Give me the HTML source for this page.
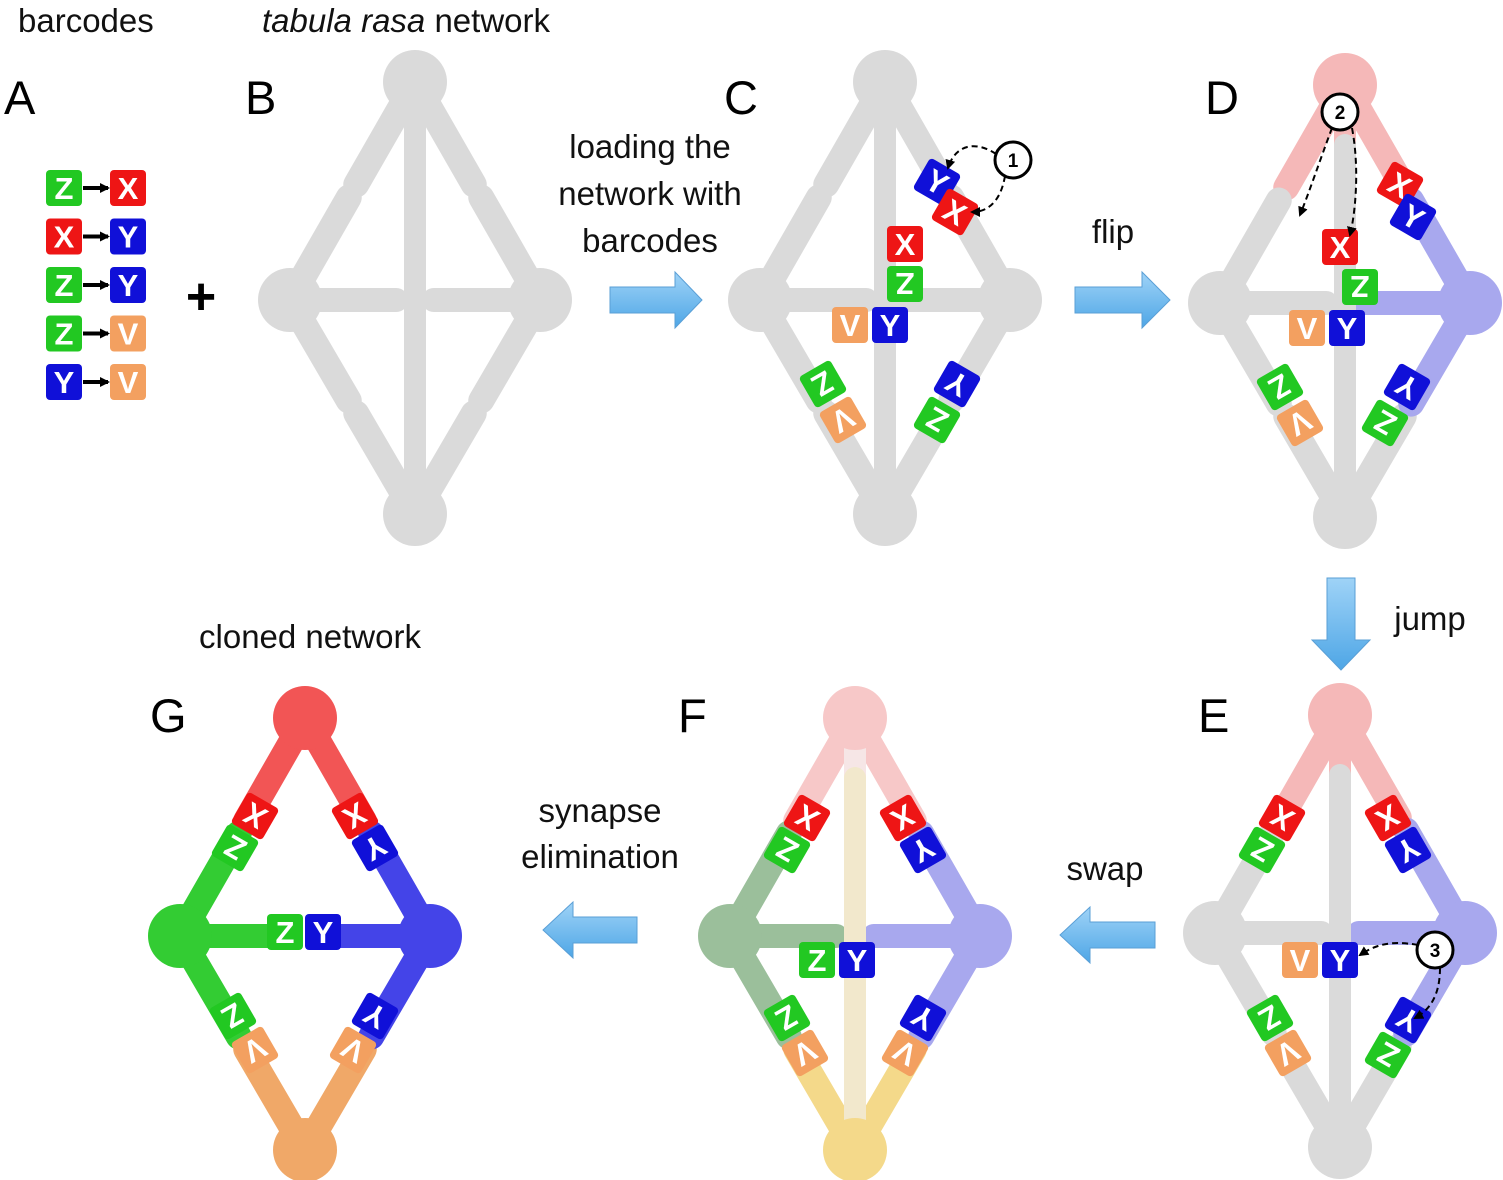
<!DOCTYPE html>
<html><head><meta charset="utf-8"><style>
html,body{margin:0;padding:0;background:#fff;}
svg{display:block;font-family:"Liberation Sans",sans-serif;}
.lbl{font-size:47px;fill:#000;}
.cap{font-size:33px;fill:#111;}
</style></head><body>
<svg id="s" width="1503" height="1180" viewBox="0 0 1503 1180">
<defs>
<marker id="ah" markerUnits="userSpaceOnUse" markerWidth="10" markerHeight="10" refX="8" refY="5" orient="auto"><path d="M0,0 L10,5 L0,10 z" fill="#000"/></marker>
<linearGradient id="blueArrow" x1="0" y1="0" x2="0" y2="1"><stop offset="0" stop-color="#9fd3f7"/><stop offset="1" stop-color="#4ea6e6"/></linearGradient>
</defs>
<g>
<text class="lbl" x="4" y="114">A</text>
<text class="lbl" x="245" y="114">B</text>
<text class="lbl" x="724" y="114">C</text>
<text class="lbl" x="1205" y="114">D</text>
<text class="lbl" x="1198" y="732">E</text>
<text class="lbl" x="678" y="732">F</text>
<text class="lbl" x="150" y="732">G</text>
</g>
<g>
<text class="cap" x="18" y="32">barcodes</text>
<text class="cap" x="262" y="32"><tspan font-style="italic">tabula rasa</tspan> network</text>
<text class="cap" x="650" y="158" text-anchor="middle">loading the</text>
<text class="cap" x="650" y="205" text-anchor="middle">network with</text>
<text class="cap" x="650" y="252" text-anchor="middle">barcodes</text>
<text class="cap" x="1113" y="243" text-anchor="middle">flip</text>
<text class="cap" x="1430" y="630" text-anchor="middle">jump</text>
<text class="cap" x="1105" y="880" text-anchor="middle">swap</text>
<text class="cap" x="600" y="822" text-anchor="middle">synapse</text>
<text class="cap" x="600" y="868" text-anchor="middle">elimination</text>
<text class="cap" x="310" y="648" text-anchor="middle">cloned network</text>
<text x="201" y="314" font-size="52" font-weight="bold" text-anchor="middle">+</text>
</g>
<g>
<polygon points="610,287 675,287 675,272 702,300 675,328 675,313 610,313" fill="url(#blueArrow)" stroke="#5a9fd6"/>
<polygon points="1075,287 1142,287 1142,272 1170,300 1142,328 1142,313 1075,313" fill="url(#blueArrow)" stroke="#5a9fd6"/>
<polygon points="1327,578 1355,578 1355,640 1370,640 1341,670 1312,640 1327,640" fill="url(#blueArrow)" stroke="#5a9fd6"/>
<polygon points="1155,922 1090,922 1090,907 1060,935 1090,963 1090,948 1155,948" fill="url(#blueArrow)" stroke="#5a9fd6"/>
<polygon points="637,917 573,917 573,902 543,930 573,958 573,943 637,943" fill="url(#blueArrow)" stroke="#5a9fd6"/>
</g>
<g id="net"></g>
</svg>
<script>
const NS='http://www.w3.org/2000/svg';
const net=document.getElementById('net');
const COL={Z:'#22c822',X:'#ee1515',Y:'#1010d8',V:'#f3a060'};
function mk(tag,attrs,parent){const e=document.createElementNS(NS,tag);for(const k in attrs)e.setAttribute(k,attrs[k]);(parent||net).appendChild(e);return e;}
function badge(g,x,y,L,rot){
  const b=mk('g',{transform:`translate(${x},${y}) rotate(${rot})`},g);
  
  
  mk('rect',{x:-18,y:-18,width:36,height:36,rx:4,fill:COL[L]},b);
  const t=mk('text',{x:0,y:11,'text-anchor':'middle','font-size':31,'font-weight':'bold',fill:'#fff'},b);
  t.textContent=L;
}
function circ(g,x,y,n){
  mk('circle',{cx:x,cy:y,r:18,fill:'#fff',stroke:'#000','stroke-width':3},g);
  const t=mk('text',{x:x,y:y+7,'text-anchor':'middle','font-size':19,'font-weight':'bold'},g);t.textContent=n;
}
function dash(g,d){mk('path',{d:d,fill:'none',stroke:'#000','stroke-width':2,'stroke-dasharray':'6,4','marker-end':'url(#ah)'},g);}
const pairs=[['Z','X'],['X','Y'],['Z','Y'],['Z','V'],['Y','V']];
const ga=mk('g',{});
pairs.forEach((p,i)=>{const y=188+i*48.5;badge(ga,64,y,p[0],0);badge(ga,128,y,p[1],0);
  mk('line',{x1:83,y1:y,x2:108,y2:y,stroke:'#000','stroke-width':4,'marker-end':'url(#ah)'},ga);});
function panel(name,cx,y0,c,opts){
  const g=mk('g',{});
  const T=[cx,y0],L=[cx-125,y0+218],R=[cx+125,y0+218],B=[cx,y0+432];
  const seg=(a,b,f,col,w)=>mk('line',{x1:a[0],y1:a[1],x2:a[0]+(b[0]-a[0])*f,y2:a[1]+(b[1]-a[1])*f,stroke:col,'stroke-width':w||26,'stroke-linecap':'round'},g);
  const M=[cx,y0+218];
  seg(T,L,0.47,c.TL);seg(L,T,0.47,c.LT);
  seg(T,R,0.47,c.TR);seg(R,T,0.47,c.RT);
  seg(B,L,0.47,c.BL);seg(L,B,0.47,c.LB);
  seg(B,R,0.47,c.BR);seg(R,B,0.47,c.RB);
  if(c.LM)seg(L,M,0.85,c.LM,24);
  if(c.RM)seg(R,M,0.85,c.RM,24);
  if(c.TV)seg(T,[cx,y0+180],1,c.TV,22);
  if(c.BV)seg(B,[cx,y0+60],1,c.BV,22);
  [[T,c.T],[L,c.L],[R,c.R],[B,c.B]].forEach(n=>mk('circle',{cx:n[0][0],cy:n[0][1],r:32,fill:n[1]},g));
  (opts||[]).forEach(b=>badge(g,cx+b[0],y0+b[1],b[2],b[3]));
  return g;
}
const gr='#dadada';
const allG={T:gr,L:gr,R:gr,B:gr,TL:gr,LT:gr,TR:gr,RT:gr,BL:gr,LB:gr,BR:gr,RB:gr,LM:gr,RM:gr,TV:gr,BV:gr};
panel('network-b',415,82,allG,[]);
const gc=panel('network-c',885,82,allG,[[52,100,'Y',30],[70,130,'X',30],[20,162,'X',0],[20,202,'Z',180],[-35,243,'V',0],[5,243,'Y',0],[-62,302,'Z',150],[-42,338,'V',150],[72,302,'Y',-150],[52,338,'Z',-150]]);
circ(gc,1013,160,'1');dash(gc,'M996,154 C975,140 955,145 948,168');dash(gc,'M1005,176 C1000,205 985,212 972,212');
const pk='#f5b8b8',lb='#a8a8ee';
const gd=panel('network-d',1345,85,Object.assign({},allG,{T:pk,TL:pk,TR:pk,TV:pk,R:lb,RT:lb,RB:lb,RM:lb}),[[-5,162,'X',0],[15,202,'Z',180],[-38,243,'V',0],[2,243,'Y',0],[55,100,'X',30],[68,132,'Y',30],[-65,302,'Z',150],[-45,338,'V',150],[62,302,'Y',-150],[40,338,'Z',-150]]);
circ(gd,1340,112,'2');dash(gd,'M1332,128 C1320,160 1310,190 1300,215');dash(gd,'M1352,128 C1360,170 1355,215 1350,235');
const ge=panel('network-e',1340,715,Object.assign({},allG,{T:pk,TL:pk,TR:pk,TV:pk,R:lb,RT:lb,RB:lb,RM:lb}),[[-58,103,'X',-150],[-78,135,'Z',-150],[48,103,'X',150],[68,135,'Y',150],[-40,245,'V',0],[0,245,'Y',0],[-70,303,'Z',150],[-52,338,'V',150],[68,305,'Y',-150],[48,340,'Z',-150]]);
circ(ge,1435,950,'3');dash(ge,'M1418,945 C1390,940 1375,945 1360,955');dash(ge,'M1440,968 C1440,995 1430,1010 1415,1018');
const gn='#9bbf9b',yl='#f4d98a',fp='#f7c8c8';
panel('network-f',855,718,{T:fp,L:gn,R:lb,B:yl,TL:fp,LT:gn,TR:fp,RT:lb,BL:yl,LB:gn,BR:yl,RB:lb,LM:gn,RM:lb,TV:'#f6e6e6',BV:'#f2e8cc'},[[-48,100,'X',-150],[-68,132,'Z',-150],[48,100,'X',150],[68,132,'Y',150],[-38,242,'Z',0],[2,242,'Y',0],[-68,300,'Z',150],[-50,335,'V',150],[68,300,'Y',-150],[50,335,'V',-150]]);
panel('network-g',305,718,{T:'#f25555',L:'#33cc33',R:'#4444e8',B:'#f0a868',TL:'#f25555',LT:'#33cc33',TR:'#f25555',RT:'#4444e8',BL:'#f0a868',LB:'#33cc33',BR:'#f0a868',RB:'#4444e8',LM:'#33cc33',RM:'#4444e8'},[[-50,98,'X',-150],[-70,130,'Z',-150],[50,98,'X',150],[70,130,'Y',150],[-20,214,'Z',0],[18,214,'Y',0],[-72,298,'Z',150],[-50,332,'V',150],[70,298,'Y',-150],[48,332,'V',-150]]);
</script>
</body></html>
